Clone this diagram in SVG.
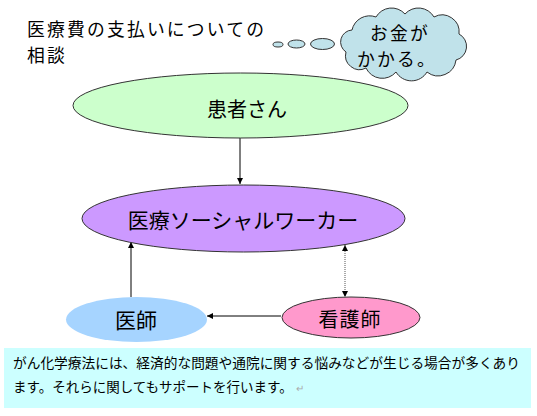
<svg xmlns="http://www.w3.org/2000/svg" width="537" height="416" viewBox="0 0 537 416">
<defs>
<marker id="ah" markerWidth="6" markerHeight="6" refX="6" refY="3" orient="auto" markerUnits="userSpaceOnUse">
<path d="M0,0 L6,3 L0,6 Z" fill="#000"/>
</marker>
<marker id="ahs" markerWidth="6" markerHeight="6" refX="6" refY="3" orient="auto-start-reverse" markerUnits="userSpaceOnUse">
<path d="M0,0 L6,3 L0,6 Z" fill="#000"/>
</marker>
<style>
.t{font-family:"Noto Sans CJK JP","Noto Sans CJK SC",sans-serif;fill:#000;}
.big{font-size:20px;}
.mid{font-size:17.8px;letter-spacing:2.2px;}
.c{text-anchor:middle;}
.sm{font-size:13.5px;}
.node{stroke:#333;stroke-width:1;}
.conn{stroke:#000;stroke-width:1;fill:none;}
</style>
</defs>
<rect width="537" height="416" fill="#fff"/>

<g id="title">
<text class="t mid" x="27" y="36">医療費の支払いについての</text>
<text class="t mid" x="27" y="62">相談</text>
</g>

<g id="thought">
<ellipse cx="278" cy="44.5" rx="5" ry="2.5" fill="#c0e2ea" stroke="#333" stroke-width="1"/>
<ellipse cx="296.5" cy="44" rx="8.5" ry="4" fill="#c0e2ea" stroke="#333" stroke-width="1"/>
<ellipse cx="322.5" cy="44" rx="12" ry="5.5" fill="#c0e2ea" stroke="#333" stroke-width="1"/>
<path d="M346,52 A12,12 0 0 1 352,30 A18,18 0 0 1 376,17 A18,18 0 0 1 405,14 A18,18 0 0 1 434,17 A17,17 0 0 1 459,34 A14,14 0 0 1 456,60 A18,18 0 0 1 427,72 A18,18 0 0 1 396,72 A18,18 0 0 1 366,68 A14,14 0 0 1 346,52 Z" fill="#c0e2ea" stroke="#333" stroke-width="1"/>
<text class="t mid c" x="400" y="40">お金が</text>
<text class="t mid c" x="397" y="66">かかる。</text>
</g>

<g id="connectors">
<line class="conn" x1="240" y1="138" x2="240" y2="184" marker-end="url(#ah)"/>
<line class="conn" x1="131" y1="297" x2="131" y2="242" marker-end="url(#ah)"/>
<line class="conn" x1="281" y1="316" x2="207" y2="316" marker-end="url(#ah)"/>
<line x1="345" y1="245" x2="345" y2="297" stroke="#555" stroke-width="1" stroke-dasharray="1,1" marker-start="url(#ahs)" marker-end="url(#ah)"/>
</g>

<g id="patient">
<ellipse class="node" cx="240.5" cy="105.5" rx="167.5" ry="32.5" fill="#ccffcc"/>
<text class="t big c" x="247" y="117">患者さん</text>
</g>

<g id="msw">
<ellipse class="node" cx="243.5" cy="218.5" rx="161.5" ry="33.5" fill="#cc99ff"/>
<text class="t c" style="font-size:21px" x="243" y="228">医療ソーシャルワーカー</text>
</g>

<g id="doctor">
<ellipse cx="136.5" cy="319.5" rx="70.5" ry="22.5" fill="#a6d4ff"/>
<text class="t c" style="font-size:21px" x="136" y="328">医師</text>
</g>

<g id="nurse">
<ellipse class="node" cx="351" cy="317.5" rx="69" ry="20.5" fill="#ff99cc"/>
<text class="t big c" x="350" y="327" letter-spacing="1">看護師</text>
</g>

<g id="note">
<rect x="4" y="348" width="527" height="60" fill="#ccffff"/>
<text class="t sm" x="13" y="368" textLength="507" lengthAdjust="spacingAndGlyphs">がん化学療法には、経済的な問題や通院に関する悩みなどが生じる場合が多くあり</text>
<text class="t sm" x="13" y="392">ます。それらに関してもサポートを行います。<tspan fill="#aaa" font-size="10px" dx="3">↵</tspan></text>
</g>
</svg>
